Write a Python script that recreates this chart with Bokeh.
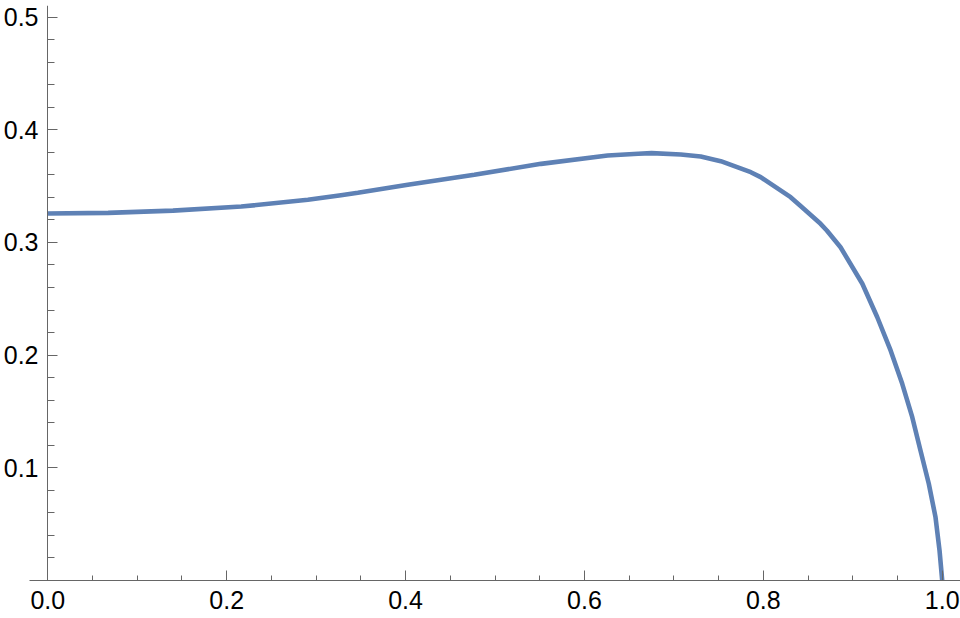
from bokeh.plotting import figure
from bokeh.models import FixedTicker, Range1d, CustomJSTickFormatter, LinearAxis
from bokeh.embed import file_html
from bokeh.resources import INLINE

# curve samples
x_vals = [0.0, 0.0675, 0.14, 0.2163, 0.2908, 0.3278, 0.3467, 0.4025, 0.4769,
          0.5514, 0.6259, 0.66, 0.675, 0.7077, 0.730, 0.7524, 0.786,
          0.797, 0.8305, 0.842, 0.864, 0.871, 0.8863, 0.9107, 0.9274, 0.9423,
          0.9553, 0.9665, 0.9757, 0.985, 0.9925, 0.997, 1.0]
y_vals = [0.3257, 0.3262, 0.3282, 0.3318, 0.3378, 0.3419, 0.3440, 0.3511,
          0.3600, 0.3697, 0.3771, 0.3787, 0.3792, 0.3780, 0.3762,
          0.3721, 0.3623, 0.3579, 0.3401, 0.3320, 0.3165, 0.3106, 0.2957,
          0.2633, 0.2336, 0.2041, 0.1745, 0.1449, 0.1154, 0.0858, 0.0562,
          0.0266, 0.0]

x_major = [0.0, 0.2, 0.4, 0.6, 0.8, 1.0]
x_minor = [0.05, 0.1, 0.15, 0.25, 0.3, 0.35, 0.45, 0.5, 0.55, 0.65, 0.7,
           0.75, 0.85, 0.9, 0.95]
y_major = [0.1, 0.2, 0.3, 0.4, 0.5]
y_minor = [0.02, 0.04, 0.06, 0.08, 0.12, 0.14, 0.16, 0.18, 0.22, 0.24, 0.26,
           0.28, 0.32, 0.34, 0.36, 0.38, 0.42, 0.44, 0.46, 0.48]

W, H = 960, 618
p = figure(width=W, height=H, output_backend="svg", toolbar_location=None,
           x_range=Range1d(-18.3 / 895.4, 913.7 / 895.4),
           y_range=Range1d(0, 575 / 1127),
           min_border_left=28, min_border_right=0, min_border_top=5,
           min_border_bottom=38)
p.background_fill_color = "white"
p.border_fill_color = "white"
p.outline_line_color = None
p.grid.visible = False

p.line(x_vals, y_vals, line_width=4.6, color="#5E81B5")

AX = "#666666"
FONT = "Liberation Sans"
FS = "25px"
fmt = CustomJSTickFormatter(code="return tick.toFixed(1);")

# x axis (bottom of frame, which is y = 0)
xa = p.xaxis[0]
xa.ticker = FixedTicker(ticks=x_major, minor_ticks=x_minor)
xa.axis_line_color = AX
xa.major_tick_line_color = AX
xa.minor_tick_line_color = AX
xa.major_tick_in = 10
xa.major_tick_out = 0
xa.minor_tick_in = 5
xa.minor_tick_out = 0
xa.major_label_text_font = FONT
xa.major_label_text_font_size = FS
xa.major_label_text_color = "black"
xa.major_label_standoff = 10
xa.formatter = fmt

# default left axis: only the tick labels
ya = p.yaxis[0]
ya.ticker = FixedTicker(ticks=y_major, minor_ticks=[])
ya.axis_line_color = None
ya.major_tick_line_color = None
ya.minor_tick_line_color = None
ya.major_tick_in = 0
ya.major_tick_out = 0
ya.minor_tick_in = 0
ya.minor_tick_out = 0
ya.major_label_text_font = FONT
ya.major_label_text_font_size = FS
ya.major_label_text_color = "black"
ya.major_label_standoff = -9
ya.formatter = fmt

# y axis line and ticks at x = 0
yl = LinearAxis(fixed_location=0,
                ticker=FixedTicker(ticks=y_major, minor_ticks=y_minor))
yl.axis_line_color = AX
yl.major_tick_line_color = AX
yl.minor_tick_line_color = AX
yl.major_tick_in = 10
yl.major_tick_out = 0
yl.minor_tick_in = 7
yl.minor_tick_out = 0
yl.major_label_text_color = None
yl.major_label_text_font_size = "1px"
p.add_layout(yl, "left")

open("out.html", "w").write(file_html(p, INLINE))
